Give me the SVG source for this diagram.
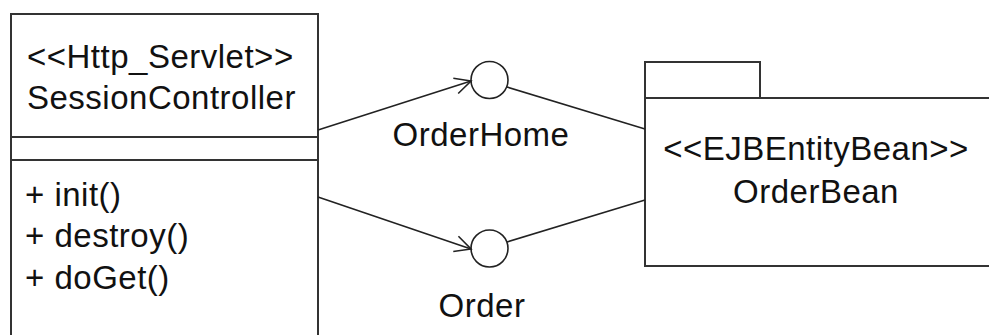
<svg xmlns="http://www.w3.org/2000/svg" width="989" height="335" viewBox="0 0 989 335">
<defs>
<style>
.s{fill:none;stroke:#222;stroke-width:1.6}
.b{fill:#fff;stroke:#333;stroke-width:2}
.t{font-family:"Liberation Sans",Arial,Helvetica,sans-serif;font-size:33px;letter-spacing:0.5px;fill:#111}
</style>
<marker id="arr" viewBox="0 0 20 20" refX="18" refY="10" markerWidth="20" markerHeight="20" markerUnits="userSpaceOnUse" orient="auto">
<path d="M2,2 L18,10 L2,18" fill="none" stroke="#222" stroke-width="1.6"/>
</marker>
</defs>
<rect width="989" height="335" fill="#fff"/>
<g id="SessionController">
<path class="b" d="M11,340 V14 H318 V340"/>
<line class="b" x1="11" y1="137" x2="318" y2="137"/>
<line class="b" x1="11" y1="160" x2="318" y2="160"/>
<text class="t" x="27" y="68">&lt;&lt;Http_Servlet&gt;&gt;</text>
<text class="t" x="27" y="109">SessionController</text>
<text class="t" x="25" y="206">+ init()</text>
<text class="t" x="25" y="247">+ destroy()</text>
<text class="t" x="25" y="289">+ doGet()</text>
</g>
<g id="OrderBean">
<rect class="b" x="645" y="62" width="115" height="36"/>
<rect class="b" x="645" y="98" width="360" height="168"/>
<text class="t" x="816" y="160" text-anchor="middle">&lt;&lt;EJBEntityBean&gt;&gt;</text>
<text class="t" x="816" y="203" text-anchor="middle">OrderBean</text>
</g>
<g id="OrderHome">
<circle class="s" cx="489.5" cy="80" r="18.5"/>
<text class="t" x="481" y="146" text-anchor="middle">OrderHome</text>
</g>
<g id="Order">
<circle class="s" cx="489.5" cy="248.5" r="18.5"/>
<text class="t" x="482" y="317" text-anchor="middle">Order</text>
</g>
<g id="connectors">
<line class="s" x1="318" y1="130" x2="471" y2="81" marker-end="url(#arr)"/>
<line class="s" x1="318" y1="197" x2="471" y2="249" marker-end="url(#arr)"/>
<line class="s" x1="507" y1="87" x2="645" y2="129"/>
<line class="s" x1="507" y1="242" x2="645" y2="200"/>
</g>
</svg>
